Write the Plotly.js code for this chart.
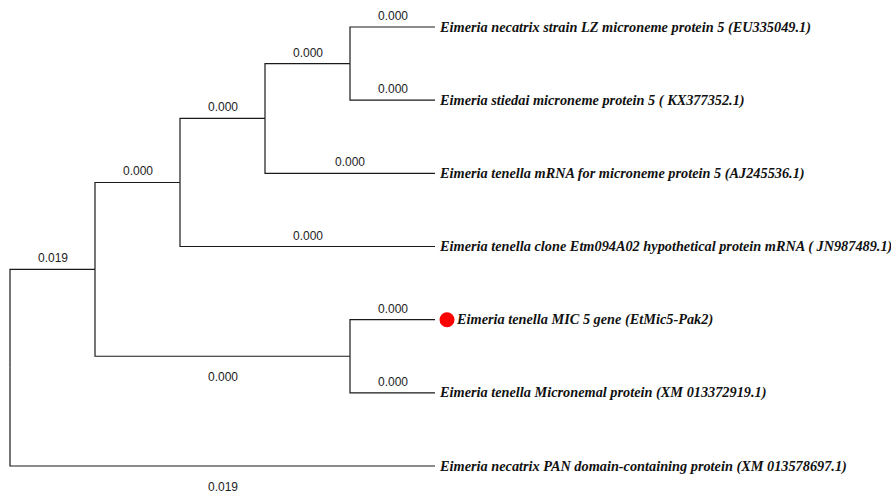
<!DOCTYPE html>
<html><head><meta charset="utf-8">
<script src="https://cdn.plot.ly/plotly-3.0.1.min.js"></script>
<style>html,body{margin:0;padding:0;background:#fff}#chart{width:891px;height:495px}</style>
</head><body><div id="chart"></div>
<script>
// Tree topology (cladogram): node index, parent index, branch label
const nodeNames = ['root','D','C','B','A','L0','L1','L2','L3','E','L4','L5','L6'];
const nodeParents = [-1, 0, 1, 2, 3, 4, 4, 3, 2, 1, 9, 9, 0];
const branchLabels = ['', '0.019', '0.000', '0.000', '0.000', '0.000', '0.000', '0.000', '0.000', '0.000', '0.000', '0.000', '0.019'];
const labelBelow = [false,false,false,false,false,false,false,false,false,true,false,false,true];
// Leaves in display order (top to bottom)
const leafNodes = ['L0','L1','L2','L3','L4','L5','L6'];
const leafLabels = [
  'Eimeria necatrix strain LZ microneme protein 5 (EU335049.1)',
  'Eimeria stiedai microneme protein 5 ( KX377352.1)',
  'Eimeria tenella mRNA for microneme protein 5 (AJ245536.1)',
  'Eimeria tenella clone Etm094A02 hypothetical protein mRNA ( JN987489.1)',
  'Eimeria tenella MIC 5 gene (EtMic5-Pak2)',
  'Eimeria tenella Micronemal protein (XM 013372919.1)',
  'Eimeria necatrix PAN domain-containing protein (XM 013578697.1)'
];
const highlightedLeaf = ['L4'];

// compute layout: height above leaves (x) and leaf order (y)
const n = nodeNames.length;
const children = nodeNames.map(()=>[]);
nodeParents.forEach((p,i)=>{ if(p>=0) children[p].push(i); });
const height = new Array(n).fill(0);
function setHeight(i){ if(children[i].length===0){height[i]=0;return 0;}
  height[i]=1+Math.max(...children[i].map(setHeight)); return height[i]; }
setHeight(0);
const maxH = height[0];
const X = new Array(n), Y = new Array(n);
function place(i){
  const li = leafNodes.indexOf(nodeNames[i]);
  X[i] = maxH - height[i];
  if(li>=0){ Y[i]=li; return; }
  children[i].forEach(place);
  const ys = children[i].map(c=>Y[c]);
  Y[i]=(Math.min(...ys)+Math.max(...ys))/2;
}
place(0);

const lx=[], ly=[];
for(let i=0;i<n;i++){
  const p=nodeParents[i]; if(p<0) continue;
  lx.push(X[p],X[p],X[i],null); ly.push(Y[p],Y[i],Y[i],null);
}
const traces=[{type:'scatter',mode:'lines',x:lx,y:ly,line:{color:'#1a1a1a',width:1.2},hoverinfo:'skip',showlegend:false}];
const hi = highlightedLeaf.map(nm=>nodeNames.indexOf(nm));
traces.push({type:'scatter',mode:'markers',x:hi.map(i=>X[i]),y:hi.map(i=>Y[i]),
  marker:{color:'#ff0000',size:15,symbol:'circle'},hoverinfo:'skip',showlegend:false,cliponaxis:false,
  xaxis:'x2',yaxis:'y'});

const ann=[];
for(let i=0;i<n;i++){
  const p=nodeParents[i]; if(p<0) continue;
  ann.push({x:(X[p]+X[i])/2,y:Y[i],text:branchLabels[i],showarrow:false,xanchor:'center',yanchor:'middle',
    yshift: labelBelow[i]? -21 : 11, font:{family:'Liberation Sans, Arial, sans-serif',size:12,color:'#222'}});
}
leafNodes.forEach((nm,k)=>{
  const i=nodeNames.indexOf(nm);
  const isHi = highlightedLeaf.includes(nm);
  ann.push({x:X[i],y:Y[i],text:'<b><i>'+leafLabels[k]+'</i></b>',showarrow:false,xanchor:'left',yanchor:'middle',
    xshift: isHi? 19 : 2, yshift:0, font:{family:'Liberation Serif, Times New Roman, serif',size:14.3,color:'#111'}});
});

// scale: depth unit = 85px, leaf step = 73.17px, tree starts at px 10
const xr=[-10/85,881/85];
const layout={width:891,height:495,margin:{l:0,r:0,t:0,b:0},paper_bgcolor:'#fff',plot_bgcolor:'#fff',
  xaxis:{range:xr,visible:false,fixedrange:true},
  // second x-axis shifted so the marker sits just right of the leaf tip
  xaxis2:{range:[xr[0]-12/85,xr[1]-12/85],visible:false,fixedrange:true,overlaying:'x'},
  yaxis:{range:[468/73.17,-27/73.17],visible:false,fixedrange:true},
  annotations:ann,showlegend:false};
Plotly.newPlot('chart',traces,layout,{displayModeBar:false,staticPlot:true});
</script></body></html>
